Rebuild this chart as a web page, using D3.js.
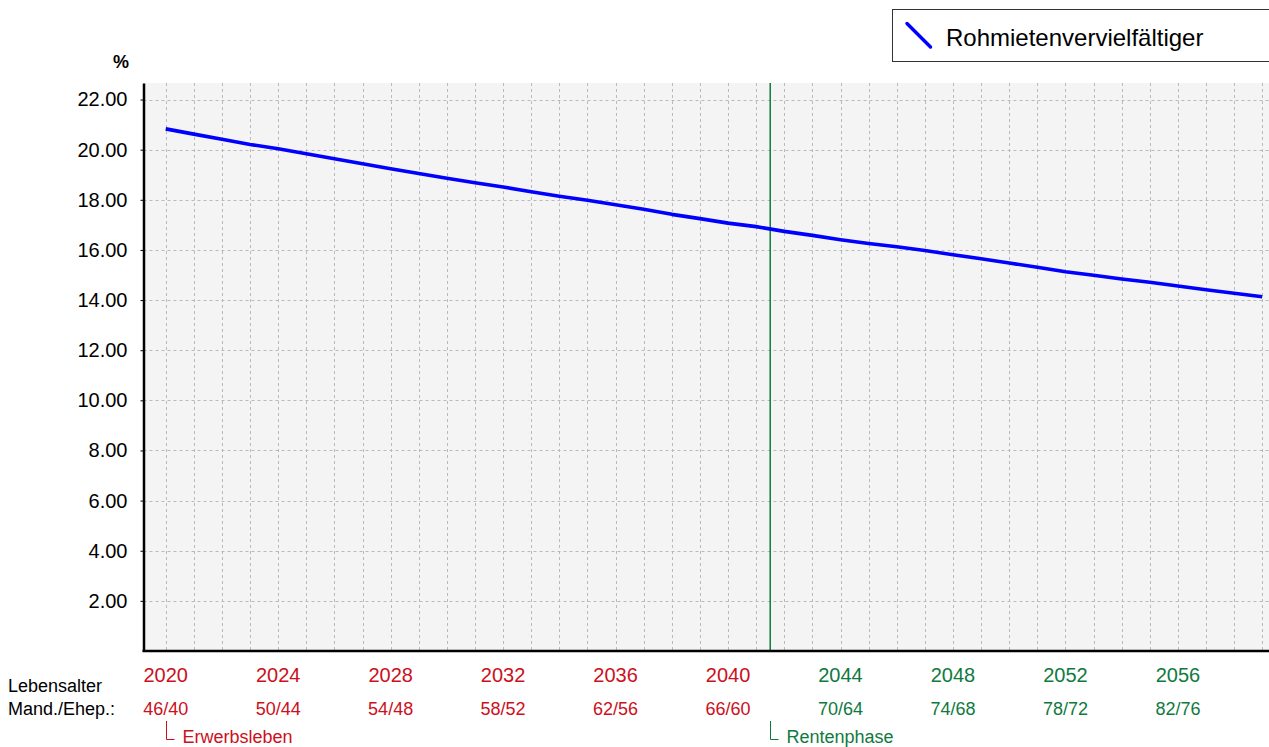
<!DOCTYPE html>
<html>
<head>
<meta charset="utf-8">
<script src="https://d3js.org/d3.v7.min.js"></script>
<style>
  body { margin: 0; background: #fff; }
  svg text { font-family: "Liberation Sans", Arial, sans-serif; }
</style>
</head>
<body>
<svg id="chart" width="1269" height="747"></svg>
<script>
// data
var years = [2020, 2021, 2022, 2023, 2024, 2025, 2026, 2027, 2028, 2029,
             2030, 2031, 2032, 2033, 2034, 2035, 2036, 2037, 2038, 2039,
             2040, 2041, 2042, 2043, 2044, 2045, 2046, 2047, 2048, 2049,
             2050, 2051, 2052, 2053, 2054, 2055, 2056, 2057, 2058, 2059];
var multiplier = [20.83, 20.62, 20.42, 20.21, 20.04, 19.84, 19.64, 19.44, 19.24, 19.05,
                  18.86, 18.68, 18.51, 18.32, 18.14, 17.98, 17.80, 17.62, 17.42, 17.25,
                  17.07, 16.93, 16.74, 16.58, 16.41, 16.26, 16.13, 15.98, 15.81, 15.65,
                  15.48, 15.31, 15.13, 14.99, 14.84, 14.71, 14.56, 14.41, 14.27, 14.13];
var yearTicks = [2020, 2024, 2028, 2032, 2036, 2040, 2044, 2048, 2052, 2056];
var ageTicks = ["46/40", "50/44", "54/48", "58/52", "62/56", "66/60", "70/64", "74/68", "78/72", "82/76"];
var yTicks = [2, 4, 6, 8, 10, 12, 14, 16, 18, 20, 22];
var retirement = 2041.5;
var seriesName = "Rohmietenvervielfältiger";

var red = "#cc1020", green = "#0f7a3e";

var svg = d3.select("#chart");
var plotL = 143.5, plotR = 1269, plotT = 83, plotB = 651;

var x = d3.scaleLinear().domain([2019.21, 2059.24]).range([plotL, plotR]);
var y = d3.scaleLinear().domain([0, 22.66]).range([plotB, plotT]);

// plot background
svg.append("rect")
  .attr("x", plotL).attr("y", plotT)
  .attr("width", plotR - plotL).attr("height", plotB - plotT)
  .attr("fill", "#f4f4f4");

// grid
var grid = svg.append("g").attr("stroke", "#bababa").attr("stroke-width", 1)
  .attr("stroke-dasharray", "3,3");
grid.selectAll("line.v").data(years).enter().append("line")
  .attr("x1", function (d) { return Math.round(x(d)) + 0.5; })
  .attr("x2", function (d) { return Math.round(x(d)) + 0.5; })
  .attr("y1", plotT).attr("y2", plotB);
grid.selectAll("line.h").data(yTicks).enter().append("line")
  .attr("x1", plotL).attr("x2", plotR)
  .attr("y1", function (d) { return Math.round(y(d)) + 0.5; })
  .attr("y2", function (d) { return Math.round(y(d)) + 0.5; });

// retirement marker
svg.append("line")
  .attr("x1", x(retirement)).attr("x2", x(retirement))
  .attr("y1", plotT).attr("y2", plotB)
  .attr("stroke", green).attr("stroke-width", 1.5);

// y axis
var yAxis = d3.axisLeft(y).tickValues(yTicks)
  .tickFormat(d3.format(".2f")).tickSizeInner(3).tickSizeOuter(0).tickPadding(13);
var gy = svg.append("g").attr("transform", "translate(" + plotL + ",0)").call(yAxis);
gy.select(".domain").attr("stroke", "#000").attr("stroke-width", 2.5);
gy.selectAll("text").attr("font-size", 20).attr("fill", "#000")
  .style("font-family", "'Liberation Sans', Arial, sans-serif");

svg.append("text").attr("x", 121).attr("y", 68)
  .attr("text-anchor", "middle").attr("font-size", 18).attr("font-weight", "bold")
  .text("%");

// series line
var line = d3.line()
  .x(function (d, i) { return x(years[i]); })
  .y(function (d) { return y(d); });
svg.append("path").datum(multiplier)
  .attr("d", line).attr("fill", "none")
  .attr("stroke", "#0000ff").attr("stroke-width", 3.6)
  .attr("stroke-linejoin", "round");

// bottom axis line
svg.append("line")
  .attr("x1", plotL - 1).attr("x2", plotR)
  .attr("y1", plotB).attr("y2", plotB)
  .attr("stroke", "#000").attr("stroke-width", 2.5);

// x labels: years and ages
var colorFor = function (d) { return d < retirement ? red : green; };
svg.selectAll("text.year").data(yearTicks).enter().append("text")
  .attr("x", function (d) { return x(d); }).attr("y", 682)
  .attr("text-anchor", "middle").attr("font-size", 20)
  .attr("fill", colorFor).text(function (d) { return d; });
svg.selectAll("text.age").data(ageTicks).enter().append("text")
  .attr("x", function (d, i) { return x(yearTicks[i]); }).attr("y", 715)
  .attr("text-anchor", "middle").attr("font-size", 18)
  .attr("fill", function (d, i) { return colorFor(yearTicks[i]); })
  .text(function (d) { return d; });

svg.append("text").attr("x", 8).attr("y", 692).attr("font-size", 18).text("Lebensalter");
svg.append("text").attr("x", 8).attr("y", 715).attr("font-size", 18).text("Mand./Ehep.:");

// phase markers
function phase(xv, label, col) {
  var px = Math.round(x(xv)) + 0.5;
  svg.append("path")
    .attr("d", "M" + px + ",721V739.5H" + (px + 8))
    .attr("fill", "none").attr("stroke", col).attr("stroke-width", 1);
  svg.append("text").attr("x", px + 16).attr("y", 743)
    .attr("font-size", 18).attr("fill", col).text(label);
}
phase(years[0], "Erwerbsleben", red);
phase(retirement, "Rentenphase", green);

// legend
var lg = svg.append("g");
lg.append("rect").attr("x", 892.5).attr("y", 9.5).attr("width", 400).attr("height", 52)
  .attr("fill", "#fff").attr("stroke", "#333").attr("stroke-width", 1);
lg.append("line").attr("x1", 907).attr("y1", 23.5).attr("x2", 930.5).attr("y2", 47)
  .attr("stroke", "#0000ff").attr("stroke-width", 3.5).attr("stroke-linecap", "round");
lg.append("text").attr("x", 946).attr("y", 46).attr("font-size", 24).text(seriesName);
</script>
</body>
</html>
